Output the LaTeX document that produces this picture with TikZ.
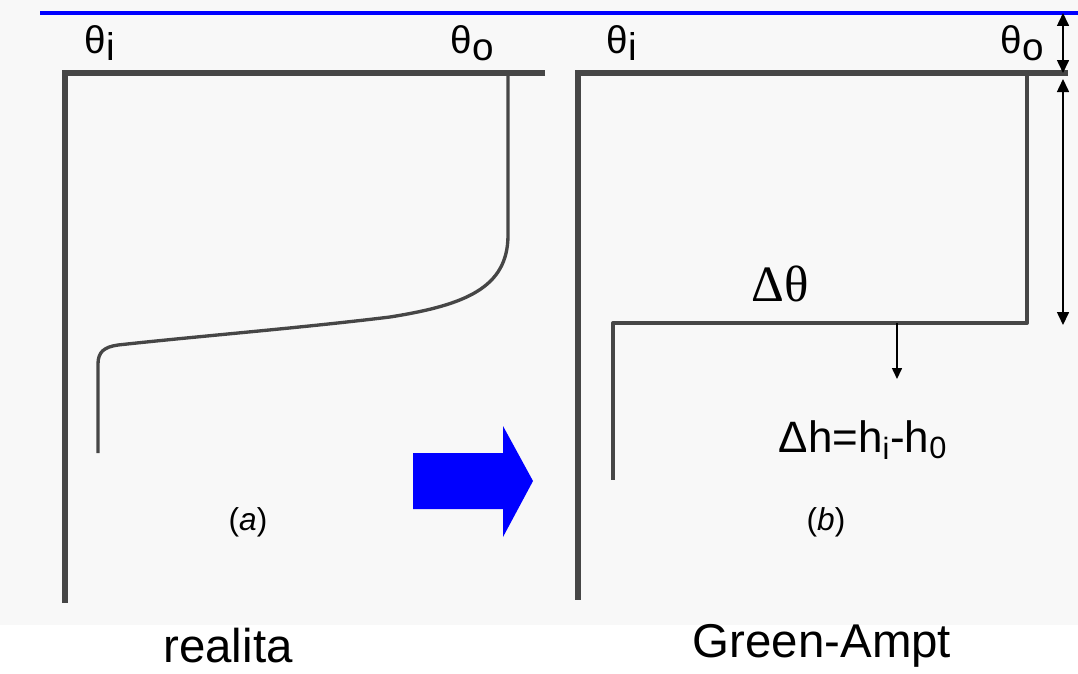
\documentclass[tikz,border=0pt]{standalone}
\usepackage{fontspec}
\setmainfont{Liberation Sans}
\newfontfamily\seriffont{Liberation Serif}
\usetikzlibrary{arrows.meta,positioning,calc}

\definecolor{scanbg}{RGB}{248,248,248}
\definecolor{ink}{RGB}{70,70,70}

\begin{document}
\begin{tikzpicture}[
  x=0.02cm, y=-0.02cm,
  frame/.style={draw=ink, line width=2.9pt},
  profile/.style={draw=ink, line width=1.9pt, line join=round},
  dim/.style={
    {Triangle[length=0.26cm,width=0.24cm]}-{Triangle[length=0.26cm,width=0.24cm]},
    line width=0.9pt,
  },
  arr/.style={-{Triangle[length=0.22cm,width=0.2cm]}, line width=0.9pt},
  theta/.style={font=\fontsize{22}{24}\selectfont, inner sep=0pt},
  sublabel/.style={font=\fontsize{18}{20}\selectfont, inner sep=0pt},
  title/.style={font=\fontsize{27}{30}\selectfont, inner sep=1pt},
]
  \useasboundingbox (0,0) rectangle (1078,673);
  % scanned sheet
  \fill[scanbg] (0,0) rectangle (1078,625);
  \draw[blue, line width=2pt] (40,13) -- (1078,13);

  % (a) real profile
  \draw[frame] (545,73) -- (65,73) -- (65,603);
  \draw[profile] (508,73) -- (508,235)
    .. controls (508,288) and (465,305) .. (390,317)
    .. controls (300,328) and (200,336) .. (118,345)
    .. controls (104,347) and (98,352) .. (98,364) -- (98,453);
  \node[theta] (thi1) at (100,43) {θ\raisebox{-0.13cm}{i}};
  \node[theta] (tho1) at (472,43) {θ\raisebox{-0.13cm}{o}};
  \node[sublabel] (capa) at (248,522) {(\textit{a})};
  \node[title] (real) at (228,646) {realita};

  % transition arrow
  \fill[blue] (413,453) -- (503,453) -- (503,426) -- (533,481)
    -- (503,537) -- (503,509) -- (413,509) -- cycle;

  % (b) Green-Ampt profile
  \draw[frame] (1068,73) -- (578,73) -- (578,600);
  \draw[profile, line width=2.3pt] (1027,73) -- (1027,323) -- (613,323) -- (613,480);
  \node[theta] (thi2) at (622,43) {θ\raisebox{-0.13cm}{i}};
  \node[theta] (tho2) at (1022,43) {θ\raisebox{-0.13cm}{o}};
  \node[font=\seriffont\fontsize{29}{32}\selectfont, inner sep=0pt] (dth) at (780,284) {Δθ};
  \node[font=\fontsize{25}{28}\selectfont, inner sep=0pt] (dh) at (863,440)
    {Δh=h\textsubscript{i}-h\textsubscript{0}};
  \node[sublabel] (capb) at (826,522) {(\textit{b})};
  \node[title] (ga) at (822,646) {Green-Ampt};

  % dimensions
  \coordinate (d0) at (1063,13);
  \coordinate (d1) at (1063,73);
  \coordinate (d2) at (1063,79);
  \coordinate (d3) at (1063,325);
  \coordinate (front) at (897,323);
  \coordinate (down) at (897,379);
  \draw[dim] (d0) -- (d1);
  \draw[dim] (d2) -- (d3);
  \draw[arr] (front) -- (down);
\end{tikzpicture}
\end{document}
